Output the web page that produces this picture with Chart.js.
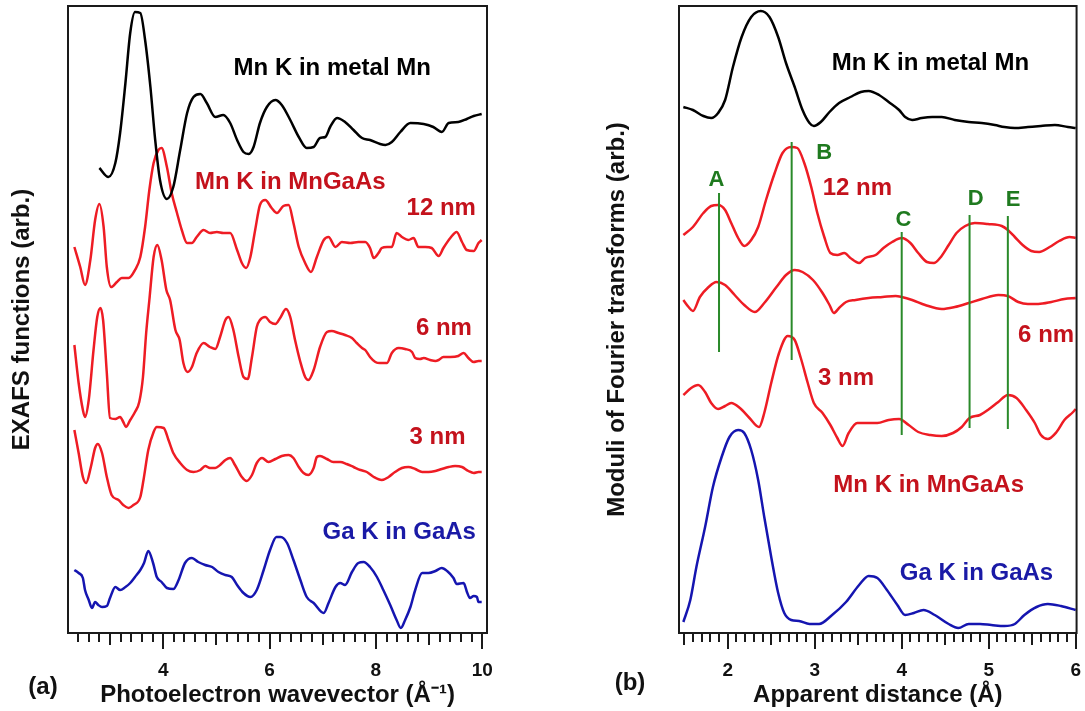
<!DOCTYPE html>
<html>
<head>
<meta charset="utf-8">
<script src="https://cdn.jsdelivr.net/npm/chart.js@4.4.1/dist/chart.umd.min.js"></script>
<style>
  html, body { margin: 0; padding: 0; background: #fff; }
  #wrap { position: relative; width: 1085px; height: 711px; }
  canvas { position: absolute; top: 0; }
  #exafs { left: 0; }
  #ft { left: 545px; }
</style>
</head>
<body>
<div id="wrap">
  <canvas id="exafs" width="545" height="711"></canvas>
  <canvas id="ft" width="540" height="711"></canvas>
</div>
<script>
// (a) EXAFS functions, k in 1/Å, offsets included (arb.)
const kMetal = [2.80,2.97,3.10,3.19,3.29,3.38,3.47,3.57,3.66,3.76,3.85,3.94,4.07,4.19,4.32,4.45,4.57,4.70,4.82,4.98,5.13,5.26,5.39,5.51,5.61,5.70,5.82,5.95,6.11,6.23,6.39,6.55,6.70,6.83,6.95,7.05,7.14,7.27,7.42,7.58,7.74,7.89,8.08,8.18,8.30,8.46,8.65,8.90,9.08,9.24,9.37,9.55,9.71,9.84,9.99];
const exafsMetal = [46.5,45.6,47.0,50.0,55.0,60.0,62.1,62.0,59.3,54.6,49.3,45.3,43.4,44.6,48.3,52.0,53.6,53.9,53.0,51.6,51.8,51.0,49.3,48.1,47.9,48.6,51.0,52.6,53.3,52.8,51.3,49.6,48.5,48.6,49.5,49.6,50.6,51.5,51.1,50.3,49.5,49.3,48.9,48.8,49.1,50.1,51.0,50.9,50.6,50.1,51.0,51.1,51.4,51.7,51.9];

const k12 = [2.33,2.44,2.53,2.63,2.72,2.80,2.88,2.94,3.02,3.13,3.22,3.35,3.47,3.57,3.66,3.74,3.82,3.91,3.97,4.07,4.16,4.26,4.35,4.45,4.54,4.63,4.76,4.88,5.01,5.13,5.26,5.39,5.48,5.56,5.64,5.73,5.82,5.92,6.04,6.14,6.26,6.36,6.45,6.55,6.67,6.78,6.89,7.02,7.11,7.24,7.36,7.52,7.67,7.80,7.89,7.96,8.05,8.11,8.21,8.30,8.39,8.49,8.61,8.71,8.80,8.93,9.05,9.18,9.27,9.40,9.52,9.62,9.71,9.84,9.93,9.99];
const exafs12 = [38.6,36.6,34.8,37.3,41.3,42.9,40.6,36.6,34.6,35.1,35.5,35.5,36.3,37.6,40.6,44.3,47.0,48.3,48.5,46.6,44.0,42.0,40.3,39.0,39.0,39.6,40.3,40.0,40.1,40.0,40.0,38.3,37.0,36.5,37.6,40.3,42.8,43.3,42.5,42.0,42.7,42.8,41.0,38.6,37.0,36.1,37.6,39.3,39.6,38.6,39.1,39.0,39.1,39.1,38.5,37.5,38.0,38.5,38.6,38.6,40.0,39.6,39.3,39.5,38.6,38.6,38.5,37.7,38.5,39.5,40.1,39.1,38.3,38.2,39.0,39.3];

const k6 = [2.33,2.41,2.49,2.53,2.60,2.69,2.76,2.82,2.87,2.94,3.00,3.10,3.19,3.25,3.30,3.38,3.47,3.55,3.62,3.68,3.74,3.82,3.89,3.97,4.06,4.13,4.23,4.31,4.38,4.46,4.54,4.63,4.76,4.88,4.98,5.07,5.17,5.23,5.32,5.42,5.51,5.59,5.67,5.76,5.82,5.92,6.01,6.11,6.20,6.31,6.39,6.48,6.58,6.67,6.73,6.83,6.95,7.08,7.17,7.30,7.42,7.55,7.64,7.74,7.80,7.89,7.99,8.08,8.21,8.30,8.43,8.55,8.68,8.74,8.83,8.90,9.02,9.12,9.18,9.27,9.40,9.55,9.65,9.74,9.84,9.93,9.99];
const exafs6 = [28.8,25.0,22.3,21.6,23.3,28.3,31.6,32.5,31.3,26.0,21.5,21.4,21.6,21.1,20.6,21.3,22.1,23.1,25.6,30.0,33.3,37.6,38.8,37.3,34.3,33.3,30.3,29.3,27.0,26.1,26.6,28.0,29.0,28.6,28.4,29.6,31.3,31.6,30.3,27.6,25.6,25.4,27.6,30.6,31.3,31.6,31.1,30.9,31.5,32.4,31.6,29.3,27.1,25.6,25.3,26.3,28.6,30.1,30.2,30.0,29.8,29.5,29.0,28.5,28.3,27.6,27.1,27.0,27.0,28.0,28.5,28.4,28.1,27.5,27.4,27.5,27.3,27.2,27.3,27.6,27.6,27.7,28.0,27.5,27.1,27.2,27.2];

const k3 = [2.33,2.41,2.49,2.55,2.64,2.72,2.77,2.85,2.94,3.03,3.16,3.25,3.35,3.44,3.57,3.63,3.72,3.82,3.88,4.01,4.10,4.19,4.32,4.45,4.57,4.70,4.79,4.88,4.98,5.07,5.17,5.26,5.35,5.48,5.57,5.67,5.76,5.86,5.98,6.11,6.23,6.36,6.45,6.55,6.64,6.73,6.83,6.89,6.95,7.08,7.20,7.33,7.45,7.58,7.71,7.83,7.96,8.11,8.24,8.36,8.49,8.61,8.74,8.87,8.99,9.12,9.24,9.37,9.49,9.62,9.74,9.84,9.93,9.99];
const exafs3 = [20.3,18.0,15.6,15.0,16.6,18.5,18.9,18.0,15.6,13.8,13.3,12.8,12.5,12.8,13.6,15.3,18.3,20.1,20.6,20.5,19.3,18.0,17.0,16.3,16.1,16.3,16.7,16.5,16.5,16.8,17.3,17.5,16.8,15.6,15.2,15.8,17.0,17.5,17.1,17.4,17.7,17.8,17.5,16.6,16.0,15.8,16.5,17.6,17.7,17.4,17.1,17.1,16.9,16.6,16.3,16.1,15.6,15.3,15.6,16.1,16.5,16.6,16.4,16.1,16.1,16.2,16.4,16.6,16.7,16.6,16.2,16.0,16.1,16.1];

const kGaAs = [2.33,2.41,2.49,2.53,2.60,2.66,2.72,2.78,2.85,2.94,3.00,3.10,3.19,3.29,3.38,3.47,3.57,3.64,3.72,3.81,3.88,3.97,4.07,4.19,4.29,4.41,4.54,4.66,4.79,4.92,5.04,5.17,5.29,5.39,5.51,5.64,5.76,5.89,6.01,6.13,6.21,6.33,6.45,6.58,6.70,6.83,7.02,7.11,7.24,7.33,7.42,7.55,7.67,7.77,7.89,8.02,8.14,8.27,8.39,8.47,8.55,8.65,8.74,8.87,8.99,9.12,9.24,9.34,9.46,9.52,9.65,9.72,9.77,9.84,9.90,9.93,9.99];
const exafsGaAs = [6.3,6.0,5.5,4.3,3.3,2.5,3.1,2.8,2.6,2.7,3.5,4.6,4.3,4.6,5.0,5.6,6.3,7.0,8.2,7.0,5.6,5.1,4.5,4.4,5.3,7.0,7.5,7.1,6.8,6.6,6.1,5.8,5.6,4.8,4.0,3.6,4.3,6.3,8.3,9.6,9.6,9.0,7.3,5.3,3.6,3.0,2.0,3.0,4.6,5.0,4.8,6.1,7.0,7.1,6.6,5.6,4.3,2.8,1.3,0.5,1.3,2.6,4.3,6.0,6.0,6.2,6.5,6.2,5.5,4.9,5.0,4.0,3.5,3.7,3.6,3.1,3.1];

// (b) Fourier transform moduli, R in Å, offsets included (arb.)
const rMetal = [1.49,1.60,1.72,1.81,1.89,1.97,2.06,2.16,2.27,2.38,2.48,2.58,2.67,2.77,2.86,2.94,2.99,3.07,3.17,3.28,3.41,3.53,3.62,3.74,3.85,3.97,4.04,4.12,4.23,4.35,4.46,4.61,4.77,4.92,5.07,5.18,5.30,5.45,5.60,5.76,5.91,6.00];
const ftMetal = [52.6,52.3,51.7,51.5,52.0,53.3,56.6,59.6,61.6,62.2,61.6,59.6,57.0,54.6,52.3,51.0,50.7,51.1,52.1,53.0,53.6,54.1,54.2,53.8,53.1,52.3,51.6,51.3,51.5,51.6,51.6,51.3,51.1,51.0,50.8,50.6,50.5,50.6,50.7,50.8,50.6,50.5];

const r12 = [1.49,1.60,1.72,1.81,1.89,1.97,2.04,2.12,2.19,2.27,2.35,2.44,2.54,2.63,2.73,2.80,2.88,2.96,3.03,3.11,3.18,3.26,3.34,3.41,3.51,3.58,3.70,3.79,3.89,4.00,4.10,4.19,4.29,4.37,4.44,4.54,4.63,4.73,4.84,4.99,5.15,5.22,5.30,5.39,5.49,5.58,5.70,5.81,5.93,6.00];
const ft12 = [39.8,40.6,42.0,42.7,42.8,42.3,41.0,39.5,38.7,39.3,40.6,43.3,46.0,48.0,48.6,48.5,47.0,44.6,42.0,39.6,38.0,37.8,38.0,37.5,37.0,37.5,37.8,38.5,39.1,39.5,39.0,38.0,37.1,37.0,37.5,38.8,40.0,40.7,41.0,40.9,40.7,40.3,39.6,38.8,38.2,38.1,38.6,39.2,39.6,39.5];

const r6 = [1.49,1.55,1.60,1.68,1.78,1.87,1.97,2.08,2.19,2.31,2.42,2.56,2.67,2.77,2.86,2.98,3.09,3.17,3.22,3.28,3.36,3.47,3.62,3.78,3.93,4.00,4.12,4.27,4.46,4.61,4.77,4.92,5.11,5.22,5.34,5.45,5.57,5.72,5.87,6.00];
const ft6 = [33.3,32.6,32.2,33.6,34.6,35.1,34.8,33.8,32.8,32.1,33.0,34.6,35.8,36.3,36.1,35.3,34.0,32.8,32.0,32.5,33.1,33.3,33.5,33.6,33.7,33.6,33.3,32.8,32.4,32.6,33.0,33.4,33.8,33.7,33.1,32.9,32.9,33.1,33.4,33.5];

const r3 = [1.49,1.58,1.66,1.74,1.81,1.89,1.97,2.04,2.14,2.25,2.36,2.42,2.50,2.59,2.69,2.77,2.84,2.92,2.99,3.09,3.18,3.26,3.32,3.39,3.49,3.60,3.72,3.85,3.97,4.08,4.19,4.33,4.46,4.59,4.69,4.78,4.90,4.99,5.11,5.22,5.32,5.43,5.53,5.60,5.68,5.78,5.87,5.97,6.00];
const ft3 = [23.8,24.5,24.8,24.1,23.0,22.4,22.7,23.0,22.5,21.5,20.6,22.0,25.0,28.0,29.7,29.3,27.5,25.0,23.0,22.0,20.8,19.5,18.7,20.0,21.0,21.0,21.0,21.3,21.4,20.8,20.1,19.8,19.7,20.0,20.6,21.5,21.8,22.3,23.1,23.8,23.5,22.3,21.0,19.8,19.4,20.1,21.3,22.1,22.4];

const rGaAs = [1.49,1.57,1.64,1.74,1.83,1.93,2.02,2.12,2.19,2.27,2.35,2.42,2.50,2.58,2.65,2.73,2.82,2.94,3.05,3.20,3.36,3.51,3.62,3.72,3.83,3.95,4.04,4.14,4.25,4.38,4.54,4.65,4.77,4.90,5.03,5.18,5.30,5.41,5.55,5.68,5.83,6.00];
const ftGaAs = [1.1,3.3,6.6,10.6,14.6,17.6,19.6,20.3,20.0,18.3,15.3,11.6,7.6,4.0,2.0,1.3,1.2,0.9,0.9,1.8,3.1,4.8,5.7,5.5,4.3,2.8,1.8,2.0,2.3,1.8,0.9,0.5,0.9,0.9,0.8,0.7,0.9,1.8,2.6,2.9,2.7,2.3];

// peak markers A-E
const markerNames = ['A', 'B', 'C', 'D', 'E'];
const markerR = [1.90, 2.735, 4.00, 4.78, 5.22];
const markerTop = [44.0, 49.1, 40.1, 41.8, 41.7];
const markerBottom = [28.1, 27.3, 19.8, 20.5, 20.4];

// tick labels
const kTickLabels = [4, 6, 8, 10];
const rTickLabels = [2, 3, 4, 5, 6];

const BLACK = '#000000', RED = '#ee1c24', BLUE = '#1515b0', GREEN = '#2a8a2a';
const RED_TXT = '#c4121c', BLUE_TXT = '#1a1aa6', GREEN_TXT = '#1f7a1f';
const FONT = '"Liberation Sans", Arial, Helvetica, sans-serif';
Chart.defaults.font.family = FONT;

const curve = (xs, ys, color) => ({
    data: xs.map((x, i) => ({ x: x, y: ys[i] })),
    borderColor: color,
    borderWidth: 2.5,
    pointRadius: 0,
    fill: false,
    cubicInterpolationMode: 'monotone',
    borderJoinStyle: 'round'
});

// frame, tick marks (minor/medium/major), labels in data coords, panel letter
const decor = {
    id: 'decor',
    afterDraw(chart, args, opts) {
        const { ctx, chartArea: a, scales: { x, y } } = chart;
        ctx.save();
        ctx.strokeStyle = '#1a1a1a';
        ctx.lineWidth = 2;
        ctx.strokeRect(a.left, a.top, a.right - a.left, a.bottom - a.top);
        for (let i = opts.tickFrom; i <= opts.tickTo; i++) {
            const len = i % opts.major === 0 ? 16 : (i % opts.mid === 0 ? 12 : 9);
            const px = Math.round(x.getPixelForValue(i / opts.tickDiv));
            ctx.beginPath();
            ctx.moveTo(px, a.bottom);
            ctx.lineTo(px, a.bottom + len);
            ctx.stroke();
        }
        ctx.textAlign = 'center';
        ctx.textBaseline = 'middle';
        opts.labels.forEach(l => {
            ctx.font = 'bold ' + (l.size || 24) + 'px ' + FONT;
            ctx.fillStyle = l.color;
            ctx.fillText(l.text, x.getPixelForValue(l.x), y.getPixelForValue(l.y));
        });
        ctx.font = 'bold 24px ' + FONT;
        ctx.fillStyle = '#111';
        ctx.fillText(opts.panel.text, opts.panel.px, opts.panel.py);
        ctx.restore();
    }
};

const axisFont = { size: 24, weight: 'bold' };

function makeOptions(cfg) {
    return {
        responsive: false,
        animation: false,
        layout: { padding: cfg.padding },
        plugins: {
            legend: { display: false },
            tooltip: { enabled: false },
            decor: cfg.decor
        },
        scales: {
            x: {
                type: 'linear',
                min: cfg.xMin,
                max: cfg.xMax,
                // invisible tick marks only push the labels down; the real marks are drawn by decor
                grid: { display: true, drawOnChartArea: false, tickLength: 22, tickColor: 'rgba(0,0,0,0)' },
                border: { display: false },
                ticks: { color: '#111', font: { size: 19, weight: 'bold' }, padding: 4, autoSkip: false, maxRotation: 0 },
                afterBuildTicks: s => { s.ticks = cfg.tickLabels.map(v => ({ value: v })); },
                afterFit: s => { s.height = 78; },
                title: { display: true, text: cfg.xTitle, color: '#111', font: axisFont, padding: { top: 0, bottom: 1 } }
            },
            y: {
                min: 0,
                max: 62.7,
                grid: { display: false },
                border: { display: false },
                ticks: { display: false },
                afterFit: s => { s.width = cfg.yWidth; },
                title: { display: true, text: cfg.yTitle, color: '#111', font: axisFont, padding: 0 }
            }
        }
    };
}

new Chart(document.getElementById('exafs'), {
    type: 'line',
    data: {
        datasets: [
            curve(kMetal, exafsMetal, BLACK),
            curve(k12, exafs12, RED),
            curve(k6, exafs6, RED),
            curve(k3, exafs3, RED),
            curve(kGaAs, exafsGaAs, BLUE)
        ]
    },
    options: makeOptions({
        padding: { left: 8, right: 58, top: 6, bottom: 0 },
        yWidth: 60,
        xMin: 2.21, xMax: 10.09,
        tickLabels: kTickLabels,
        xTitle: 'Photoelectron wavevector (Å⁻¹)',
        yTitle: 'EXAFS functions (arb.)',
        decor: {
            tickFrom: 12, tickTo: 50, tickDiv: 5, major: 10, mid: 5,
            panel: { text: '(a)', px: 43, py: 687 },
            labels: [
                { text: 'Mn K in metal Mn', x: 7.18, y: 56.5, color: BLACK },
                { text: 'Mn K in MnGaAs', x: 6.39, y: 45.1, color: RED_TXT },
                { text: '12 nm', x: 9.23, y: 42.5, color: RED_TXT },
                { text: '6 nm', x: 9.28, y: 30.5, color: RED_TXT },
                { text: '3 nm', x: 9.16, y: 19.6, color: RED_TXT },
                { text: 'Ga K in GaAs', x: 8.44, y: 10.1, color: BLUE_TXT }
            ]
        }
    }),
    plugins: [decor]
});

const markerLines = markerR.map((r, i) => ({
    data: [{ x: r, y: markerBottom[i] }, { x: r, y: markerTop[i] }],
    borderColor: GREEN,
    borderWidth: 2,
    pointRadius: 0,
    fill: false
}));

new Chart(document.getElementById('ft'), {
    type: 'line',
    data: {
        datasets: markerLines.concat([
            curve(rMetal, ftMetal, BLACK),
            curve(r12, ft12, RED),
            curve(r6, ft6, RED),
            curve(r3, ft3, RED),
            curve(rGaAs, ftGaAs, BLUE)
        ])
    },
    options: makeOptions({
        padding: { left: 58, right: 6, top: 6, bottom: 0 },
        yWidth: 76,
        xMin: 1.44, xMax: 6.01,
        tickLabels: rTickLabels,
        xTitle: 'Apparent distance (Å)',
        yTitle: 'Moduli of Fourier transforms (arb.)',
        decor: {
            tickFrom: 15, tickTo: 60, tickDiv: 10, major: 10, mid: 5,
            panel: { text: '(b)', px: 85, py: 683 },
            labels: [
                { text: 'Mn K in metal Mn', x: 4.33, y: 57.0, color: BLACK },
                { text: '12 nm', x: 3.49, y: 44.5, color: RED_TXT },
                { text: '6 nm', x: 5.66, y: 29.8, color: RED_TXT },
                { text: '3 nm', x: 3.36, y: 25.5, color: RED_TXT },
                { text: 'Mn K in MnGaAs', x: 4.31, y: 14.8, color: RED_TXT },
                { text: 'Ga K in GaAs', x: 4.86, y: 6.0, color: BLUE_TXT }
            ].concat(markerNames.map((n, i) => ({
                text: n, size: 22, color: GREEN_TXT,
                x: [1.87, 3.11, 4.02, 4.85, 5.28][i],
                y: [45.3, 48.0, 41.3, 43.4, 43.3][i]
            })))
        }
    }),
    plugins: [decor]
});
</script>
</body>
</html>
